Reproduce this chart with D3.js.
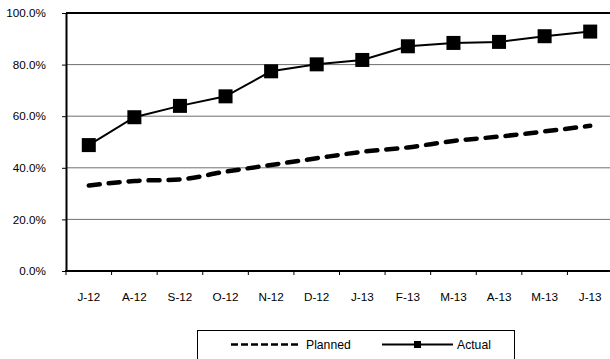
<!DOCTYPE html>
<html>
<head>
<meta charset="utf-8">
<script src="https://cdn.jsdelivr.net/npm/d3@7/dist/d3.min.js"></script>
<style>
  html, body { margin: 0; padding: 0; background: #fff; }
  svg { display: block; font-family: "Liberation Sans", Arial, sans-serif; }
</style>
</head>
<body>
<svg id="chart" width="610" height="359"></svg>
<script>
// Monthly progress, Jul 2012 – Jun 2013
const months = ["J-12", "A-12", "S-12", "O-12", "N-12", "D-12", "J-13", "F-13", "M-13", "A-13", "M-13", "J-13"];
const planned = [33.1, 34.9, 35.5, 38.5, 41.1, 43.7, 46.2, 47.9, 50.4, 52.1, 54.1, 56.3];
const actual = [48.8, 59.6, 64.0, 67.7, 77.4, 80.1, 81.8, 87.1, 88.4, 88.8, 91.0, 92.8];
const yTicks = [0, 20, 40, 60, 80, 100];
const seriesNames = ["Planned", "Actual"];

const svg = d3.select("#chart");
const plot = { left: 66, top: 13, right: 613, bottom: 271 };
const axisFont = 11.7;
const legendFont = 12.2;

const idx = d3.range(months.length);
const x = d3.scaleBand().domain(idx).range([plot.left, plot.right]).padding(0);
const y = d3.scaleLinear().domain([0, 100]).range([plot.bottom, plot.top]);

// horizontal gridlines
svg.append("g")
  .selectAll("line")
  .data(yTicks.filter(d => d > 0 && d < 100))
  .join("line")
  .attr("x1", plot.left).attr("x2", plot.right)
  .attr("y1", d => y(d)).attr("y2", d => y(d))
  .attr("stroke", "#6f6f6f").attr("stroke-width", 1);

// top border of the plot area
svg.append("line")
  .attr("x1", plot.left).attr("x2", plot.right)
  .attr("y1", y(100)).attr("y2", y(100))
  .attr("stroke", "#000").attr("stroke-width", 2);

// y axis
const yAxis = svg.append("g")
  .attr("transform", `translate(${plot.left},0)`)
  .call(d3.axisLeft(y).tickValues(yTicks).tickFormat(d => d.toFixed(1) + "%")
    .tickSizeInner(4).tickSizeOuter(0).tickPadding(16));
yAxis.select(".domain").attr("stroke", "#000").attr("stroke-width", 2);
yAxis.selectAll(".tick line").attr("stroke", "#000");
yAxis.selectAll("text").attr("font-size", axisFont).attr("fill", "#000")
  .attr("font-family", "'Liberation Sans', Arial, sans-serif");

// x axis: labels at category centres, ticks at category boundaries
const xAxis = svg.append("g")
  .attr("transform", `translate(0,${plot.bottom})`)
  .call(d3.axisBottom(x).tickFormat(i => months[i]).tickSize(0).tickPadding(22));
xAxis.select(".domain").remove();
xAxis.selectAll("text").attr("font-size", axisFont).attr("fill", "#000")
  .attr("font-family", "'Liberation Sans', Arial, sans-serif");

svg.append("g")
  .selectAll("line")
  .data(d3.range(months.length + 1))
  .join("line")
  .attr("x1", i => plot.left + i * x.step()).attr("x2", i => plot.left + i * x.step())
  .attr("y1", plot.bottom).attr("y2", plot.bottom + 4)
  .attr("stroke", "#000").attr("stroke-width", 1);

svg.append("line")
  .attr("x1", plot.left - 1).attr("x2", plot.right)
  .attr("y1", plot.bottom).attr("y2", plot.bottom)
  .attr("stroke", "#000").attr("stroke-width", 2);

const cx = i => x(i) + x.bandwidth() / 2;

// planned series: heavy dashed curve
svg.append("path")
  .datum(planned)
  .attr("d", d3.line().x((d, i) => cx(i)).y(d => y(d)).curve(d3.curveMonotoneX))
  .attr("fill", "none").attr("stroke", "#000")
  .attr("stroke-width", 4.5).attr("stroke-linecap", "round")
  .attr("stroke-dasharray", "11,9");

// actual series: solid line with square markers
svg.append("path")
  .datum(actual)
  .attr("d", d3.line().x((d, i) => cx(i)).y(d => y(d)))
  .attr("fill", "none").attr("stroke", "#000").attr("stroke-width", 2);

const m = 14;
svg.append("g")
  .selectAll("rect")
  .data(actual)
  .join("rect")
  .attr("x", (d, i) => cx(i) - m / 2).attr("y", d => y(d) - m / 2)
  .attr("width", m).attr("height", m)
  .attr("fill", "#000");

// legend
const lg = svg.append("g");
lg.append("rect")
  .attr("x", 197.5).attr("y", 330.5).attr("width", 317).attr("height", 40)
  .attr("fill", "#fff").attr("stroke", "#000").attr("stroke-width", 1);
lg.append("line")
  .attr("x1", 231).attr("x2", 299).attr("y1", 344.5).attr("y2", 344.5)
  .attr("stroke", "#000").attr("stroke-width", 2.5).attr("stroke-dasharray", "7,3");
lg.append("text").attr("x", 306).attr("y", 348.8).attr("font-size", legendFont).text(seriesNames[0]);
lg.append("line")
  .attr("x1", 382).attr("x2", 453).attr("y1", 344.5).attr("y2", 344.5)
  .attr("stroke", "#000").attr("stroke-width", 2);
lg.append("rect")
  .attr("x", 417.5 - 3.5).attr("y", 344.5 - 3.5).attr("width", 7).attr("height", 7)
  .attr("fill", "#000");
lg.append("text").attr("x", 457).attr("y", 348.8).attr("font-size", legendFont).text(seriesNames[1]);
</script>
</body>
</html>
